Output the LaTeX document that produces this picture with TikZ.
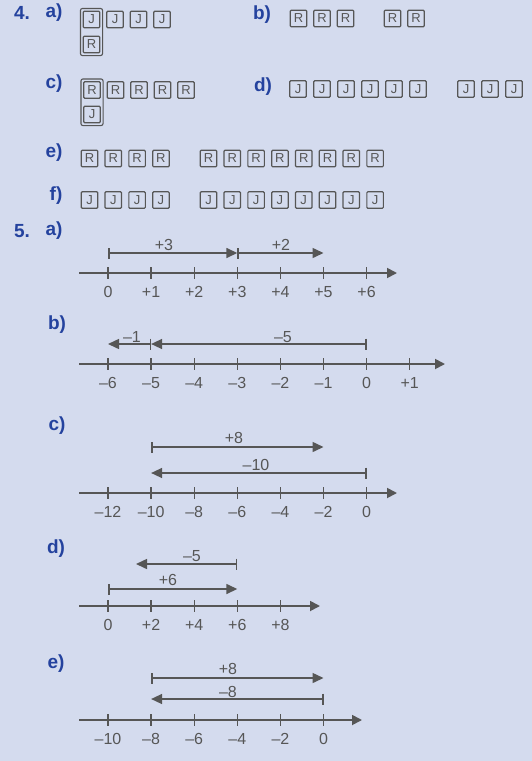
\documentclass[tikz,border=0pt]{standalone}
\usepackage{fontspec}
\setmainfont{Liberation Sans}
\usetikzlibrary{arrows.meta,fit}
\definecolor{pagebg}{RGB}{212,219,238}
\definecolor{inkgray}{RGB}{86,86,86}
\definecolor{labelblue}{RGB}{36,66,158}
\tikzset{
  tile/.style={draw=inkgray, line width=1.2pt, rounded corners=1pt,
    minimum width=16.5pt, minimum height=16.5pt, inner sep=0pt,
    text=inkgray, font=\fontsize{13}{13}\selectfont},
  pairframe/.style={draw=inkgray, line width=1.1pt, rounded corners=2pt, inner sep=2.2pt},
  partlabel/.style={text=labelblue, font=\bfseries\fontsize{19}{19}\selectfont, inner sep=0pt},
  numlabel/.style={text=inkgray, font=\fontsize{16}{16}\selectfont, inner sep=0pt},
  axisline/.style={draw=inkgray, line width=1.8pt, -{Triangle[length=10pt,width=10pt]}},
  tickmark/.style={draw=inkgray, line width=1.4pt},
  jump/.style={draw=inkgray, line width=1.5pt,
    {Bar[width=11pt]}-{Triangle[length=11pt,width=10pt]}}
}
\begin{document}
\begin{tikzpicture}[x=1pt,y=-1pt]
  \fill[pagebg] (0,0) rectangle (532,761);
  \useasboundingbox (0,0) rectangle (532,761);

  % exercise 4
  \node[partlabel] (n4) at (22,13) {4.};
  \node[partlabel] (p4a) at (54,13) {a)};
  \node[partlabel] (p4b) at (262,15) {b)};
  \node[partlabel] (p4c) at (54,84) {c)};
  \node[partlabel] (p4d) at (263,87) {d)};
  \node[partlabel] (p4e) at (54,153) {e)};
  \node[partlabel] (p4f) at (56,196) {f)};

  \foreach \i in {0,...,3}
    \node[tile] (qa\i) at (91.5+23.5*\i,19.5) {J};
  \node[tile] (qar) at (91.5,44.5) {R};
  \node[pairframe, fit=(qa0) (qar)] (fa) {};

  \foreach \i in {0,1,2,4,5}
    \node[tile] (qb\i) at (298.5+23.5*\i,18.5) {R};

  \foreach \i in {0,...,4}
    \node[tile] (qc\i) at (92+23.5*\i,90) {R};
  \node[tile] (qcj) at (92,114.5) {J};
  \node[pairframe, fit=(qc0) (qcj)] (fc) {};

  \foreach \i in {0,...,5,7,8,9}
    \node[tile] (qd\i) at (298+24*\i,89) {J};

  \foreach \i in {0,...,3,5,6,...,12} {
    \node[tile] (qe\i) at (89.5+23.8*\i,158.5) {R};
    \node[tile] (qf\i) at (89.5+23.8*\i,200) {J};
  }

  % exercise 5
  \node[partlabel] (n5) at (22,231) {5.};
  \node[partlabel] (p5a) at (54,231) {a)};
  \node[partlabel] (p5b) at (57,325) {b)};
  \node[partlabel] (p5c) at (57,426) {c)};
  \node[partlabel] (p5d) at (56,549) {d)};
  \node[partlabel] (p5e) at (56,664) {e)};

  % a)
  \coordinate (aL) at (79,273);
  \coordinate (aR) at (397,273);
  \draw[axisline] (aL) -- (aR);
  \foreach \i/\t in {0/0,1/+1,2/+2,3/+3,4/+4,5/+5,6/+6} {
    \coordinate (a\i) at (108+43.1*\i,273);
    \draw[tickmark] ([yshift=6pt]a\i) -- ([yshift=-6pt]a\i);
    \node[numlabel] (an\i) at ([yshift=-19pt]a\i) {\t};
  }
  \draw[jump] ([yshift=20pt]a0) -- ([yshift=20pt]a3);
  \draw[jump] ([yshift=20pt]a3) -- ([yshift=20pt]a5);
  \node[numlabel] (ja1) at (164,245) {+3};
  \node[numlabel] (ja2) at (281,245) {+2};

  % b)
  \coordinate (bL) at (79,364);
  \coordinate (bR) at (445,364);
  \draw[axisline] (bL) -- (bR);
  \foreach \i/\t in {0/–6,1/–5,2/–4,3/–3,4/–2,5/–1,6/0,7/+1} {
    \coordinate (b\i) at (108+43.1*\i,364);
    \draw[tickmark] ([yshift=6pt]b\i) -- ([yshift=-6pt]b\i);
    \node[numlabel] (bn\i) at ([yshift=-19pt]b\i) {\t};
  }
  \draw[jump] ([yshift=20pt]b1) -- ([yshift=20pt]b0);
  \draw[jump] ([yshift=20pt]b6) -- ([yshift=20pt]b1);
  \node[numlabel] (jb1) at (132,337) {–1};
  \node[numlabel] (jb2) at (283,337) {–5};

  % c)
  \coordinate (cL) at (79,493);
  \coordinate (cR) at (397,493);
  \draw[axisline] (cL) -- (cR);
  \foreach \i/\t in {0/–12,1/–10,2/–8,3/–6,4/–4,5/–2,6/0} {
    \coordinate (c\i) at (108+43.1*\i,493);
    \draw[tickmark] ([yshift=6pt]c\i) -- ([yshift=-6pt]c\i);
    \node[numlabel] (cn\i) at ([yshift=-19pt]c\i) {\t};
  }
  \draw[jump] ([yshift=46pt]c1) -- ([yshift=46pt]c5);
  \draw[jump] ([yshift=20pt]c6) -- ([yshift=20pt]c1);
  \node[numlabel] (jc1) at (234,438) {+8};
  \node[numlabel] (jc2) at (256,465) {–10};

  % d)
  \coordinate (dL) at (79,606);
  \coordinate (dR) at (320,606);
  \draw[axisline] (dL) -- (dR);
  \foreach \i/\t in {0/0,1/+2,2/+4,3/+6,4/+8} {
    \coordinate (d\i) at (108+43.1*\i,606);
    \draw[tickmark] ([yshift=6pt]d\i) -- ([yshift=-6pt]d\i);
    \node[numlabel] (dn\i) at ([yshift=-19pt]d\i) {\t};
  }
  \coordinate (dm) at (136,564);
  \draw[jump] ([yshift=42pt]d3) -- (dm);
  \draw[jump] ([yshift=17pt]d0) -- ([yshift=17pt]d3);
  \node[numlabel] (jd1) at (192,556) {–5};
  \node[numlabel] (jd2) at (168,580) {+6};

  % e)
  \coordinate (eL) at (79,720);
  \coordinate (eR) at (362,720);
  \draw[axisline] (eL) -- (eR);
  \foreach \i/\t in {0/–10,1/–8,2/–6,3/–4,4/–2,5/0} {
    \coordinate (e\i) at (108+43.1*\i,720);
    \draw[tickmark] ([yshift=6pt]e\i) -- ([yshift=-6pt]e\i);
    \node[numlabel] (en\i) at ([yshift=-19pt]e\i) {\t};
  }
  \draw[jump] ([yshift=42pt]e1) -- ([yshift=42pt]e5);
  \draw[jump] ([yshift=21pt]e5) -- ([yshift=21pt]e1);
  \node[numlabel] (je1) at (228,669) {+8};
  \node[numlabel] (je2) at (228,692) {–8};
\end{tikzpicture}
\end{document}
